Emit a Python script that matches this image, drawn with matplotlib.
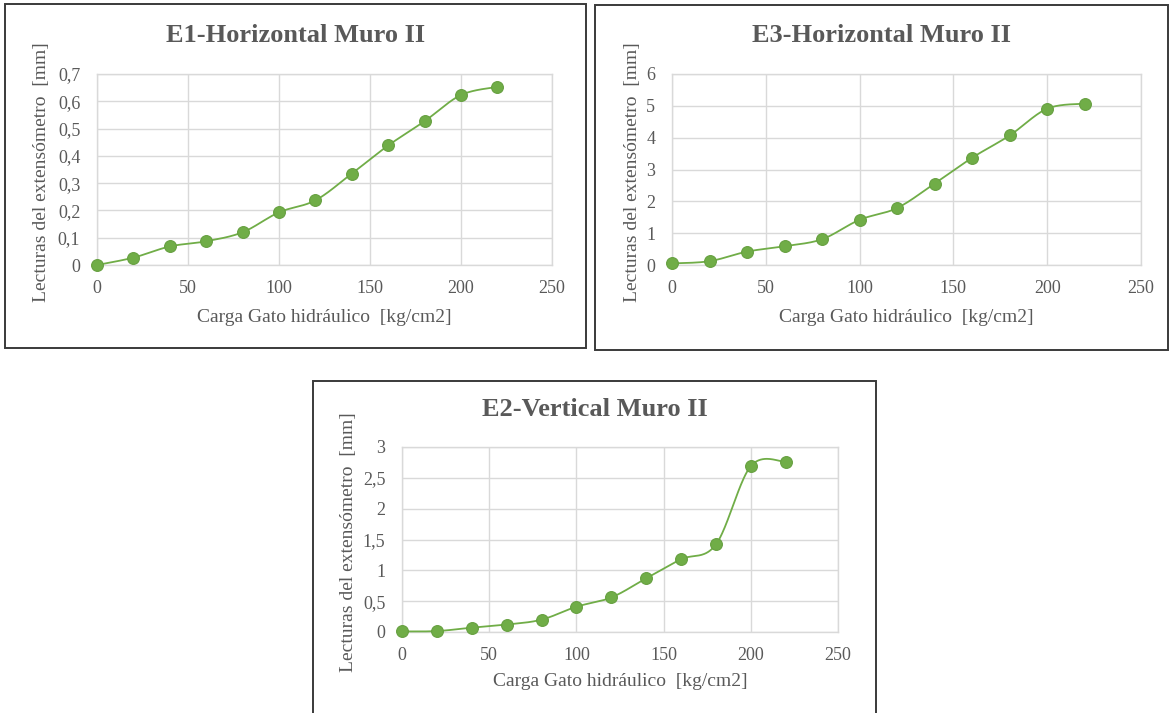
import numpy as np
import matplotlib
matplotlib.use("Agg")
import matplotlib.pyplot as plt
from matplotlib.patches import Rectangle
from matplotlib.ticker import FuncFormatter, MultipleLocator

# Hydraulic jack load [kg/cm2]
carga = [0, 20, 40, 60, 80, 100, 120, 140, 160, 180, 200, 220]

# Extensometer readings [mm]
e1_horizontal = [0.0, 0.027, 0.068, 0.087, 0.12, 0.193, 0.237, 0.335, 0.438, 0.527, 0.623, 0.653]
e3_horizontal = [0.05, 0.12, 0.42, 0.59, 0.81, 1.42, 1.79, 2.56, 3.37, 4.07, 4.91, 5.07]
e2_vertical = [0.01, 0.015, 0.07, 0.12, 0.20, 0.41, 0.56, 0.87, 1.18, 1.42, 2.69, 2.76]

titles = ["E1-Horizontal Muro II", "E3-Horizontal Muro II", "E2-Vertical Muro II"]
xlabel = "Carga Gato hidráulico  [kg/cm2]"
ylabel = "Lecturas del extensómetro  [mm]"

W, H = 1170, 713
TEXT = "#595959"
GRID = "#d9d9d9"
GREEN = "#70ad47"
FONT = "Liberation Serif"

plt.rcParams["font.family"] = [FONT, "DejaVu Serif"]

fig = plt.figure(figsize=(W / 100, H / 100), dpi=100)


def fx(px):
    return px / W


def fy(py):
    return 1 - py / H


def smooth_curve(x, y, n=40):
    """Bezier smoothing through every point (Catmull-Rom style tangents)."""
    p = np.column_stack([x, y]).astype(float)
    ext = np.vstack([p[0], p, p[-1]])
    t = np.linspace(0, 1, n)[:, None]
    out = []
    for i in range(len(p) - 1):
        p0, p3 = ext[i + 1], ext[i + 2]
        c1 = p0 + (ext[i + 2] - ext[i]) / 6.0
        c2 = p3 - (ext[i + 3] - ext[i + 1]) / 6.0
        seg = ((1 - t) ** 3) * p0 + 3 * ((1 - t) ** 2) * t * c1 \
            + 3 * (1 - t) * t ** 2 * c2 + t ** 3 * p3
        out.append(seg if i == 0 else seg[1:])
    seg = np.vstack(out)
    return seg[:, 0], seg[:, 1]


def comma_fmt(v, pos):
    s = f"{round(v, 6):g}"
    return s.replace(".", ",")


def panel(frame, plot, title, values, ymax, ystep, title_y, ylabel_x, xlabel_y):
    fx0, fy0, fx1, fy1 = frame
    fig.add_artist(Rectangle((fx(fx0), fy(fy1)), fx(fx1) - fx(fx0), fy(fy0) - fy(fy1),
                             transform=fig.transFigure, fill=False,
                             edgecolor="#3a3a3a", linewidth=1.4, zorder=0))
    px0, py0, px1, py1 = plot
    ax = fig.add_axes([fx(px0), fy(py1), fx(px1) - fx(px0), fy(py0) - fy(py1)])
    ax.set_xlim(0, 250)
    ax.set_ylim(0, ymax)
    ax.xaxis.set_major_locator(MultipleLocator(50))
    ax.yaxis.set_major_locator(MultipleLocator(ystep))
    ax.yaxis.set_major_formatter(FuncFormatter(comma_fmt))
    ax.grid(True, color=GRID, linewidth=1.0)
    ax.set_axisbelow(True)
    for sp in ax.spines.values():
        sp.set_color(GRID)
        sp.set_linewidth(1.0)
    ax.tick_params(axis="both", length=0, labelsize=13, labelcolor=TEXT)
    ax.tick_params(axis="y", pad=12)
    ax.tick_params(axis="x", pad=10.5)

    sx, sy = smooth_curve(carga, values)
    ax.plot(sx, sy, color=GREEN, linewidth=1.3, zorder=3, clip_on=False)
    ax.plot(carga, values, linestyle="none", marker="o", markersize=8.5,
            markerfacecolor=GREEN, markeredgecolor="#66a040", markeredgewidth=0.8,
            zorder=4, clip_on=False)

    fig.text(fx((fx0 + fx1) / 2), fy(title_y), title, ha="center", va="center",
             fontsize=19, fontweight="bold", color=TEXT)
    fig.text(fx((px0 + px1) / 2), fy(xlabel_y), xlabel, ha="center", va="center",
             fontsize=14, color=TEXT)
    fig.text(fx(ylabel_x), fy((py0 + py1) / 2 + 3), ylabel, ha="center", va="center",
             rotation=90, fontsize=14, color=TEXT)
    return ax


panel((5, 4, 586, 348), (97, 74, 552, 265), titles[0], e1_horizontal, 0.7, 0.1,
      title_y=35, ylabel_x=42, xlabel_y=318)
panel((595, 5, 1168, 350), (672, 74, 1141, 265), titles[1], e3_horizontal, 6, 1,
      title_y=35, ylabel_x=632, xlabel_y=318)
panel((313, 381, 876, 760), (402, 447, 838, 632), titles[2], e2_vertical, 3, 0.5,
      title_y=410, ylabel_x=348, xlabel_y=682)

fig.savefig("out.png", dpi=100, facecolor="white")
